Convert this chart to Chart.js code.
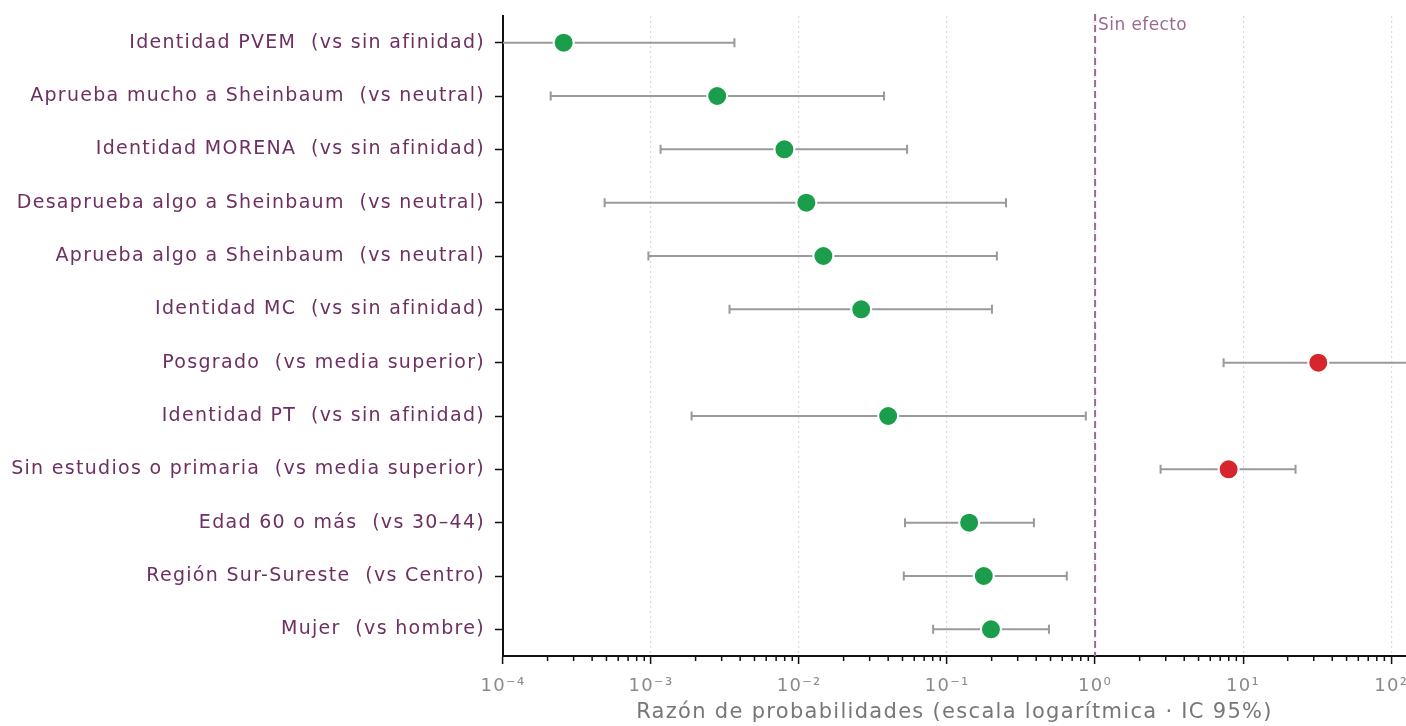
<!DOCTYPE html>
<html>
<head>
<meta charset="utf-8">
<script src="https://cdn.jsdelivr.net/npm/chart.js@4.4.1/dist/chart.umd.min.js"></script>
<style>
  html, body { margin: 0; padding: 0; background: #fff; }
  #wrap { width: 1406px; height: 726px; position: relative; }
</style>
</head>
<body>
<div id="wrap"><canvas id="chart"></canvas></div>
<script>
// odds ratios with 95% CI
const labels = [
    'Identidad PVEM  (vs sin afinidad)',
    'Aprueba mucho a Sheinbaum  (vs neutral)',
    'Identidad MORENA  (vs sin afinidad)',
    'Desaprueba algo a Sheinbaum  (vs neutral)',
    'Aprueba algo a Sheinbaum  (vs neutral)',
    'Identidad MC  (vs sin afinidad)',
    'Posgrado  (vs media superior)',
    'Identidad PT  (vs sin afinidad)',
    'Sin estudios o primaria  (vs media superior)',
    'Edad 60 o más  (vs 30–44)',
    'Región Sur-Sureste  (vs Centro)',
    'Mujer  (vs hombre)'
];
const oddsRatio = [2.57e-4, 2.8e-3, 7.96e-3, 0.0112, 0.0146, 0.0263, 32.2, 0.040, 7.98, 0.141, 0.177, 0.198];
const ciLow     = [5e-5, 2.1e-4, 1.16e-3, 4.86e-4, 9.6e-4, 3.39e-3, 7.38, 1.88e-3, 2.77, 0.052, 0.051, 0.0805];
const ciHigh    = [3.66e-3, 0.0375, 0.0537, 0.25, 0.217, 0.201, 140, 0.866, 22.6, 0.386, 0.644, 0.488];
const NO_EFFECT = 1;
const X_MIN = 1e-4, X_MAX = 126;
const tickLabels = { '-4': '10⁻⁴', '-3': '10⁻³', '-2': '10⁻²', '-1': '10⁻¹', '0': '10⁰', '1': '10¹', '2': '10²' };

const FONT = "'DejaVu Sans', sans-serif";
const LABEL_COLOR = '#6e2f61';
const SPACING = '1.3px';
const isDecade = v => Math.abs(Math.log10(v) - Math.round(Math.log10(v))) < 1e-6;

// wider lettering, dashed "no effect" line, short minor ticks
const decor = {
    id: 'decor',
    beforeUpdate(chart) { chart.ctx.letterSpacing = SPACING; },
    beforeDraw(chart) { chart.ctx.letterSpacing = SPACING; },
    beforeDatasetsDraw(chart) {
        const ctx = chart.ctx, area = chart.chartArea, x = chart.scales.x.getPixelForValue(NO_EFFECT);
        ctx.save();
        ctx.strokeStyle = '#9b6b8f';
        ctx.lineWidth = 2;
        ctx.setLineDash([7, 4]);
        ctx.beginPath();
        ctx.moveTo(x, area.top - 2);
        ctx.lineTo(x, area.bottom);
        ctx.stroke();
        ctx.setLineDash([]);
        ctx.fillStyle = '#9b6b8f';
        ctx.font = "17px " + FONT;
        ctx.letterSpacing = '0.4px';
        ctx.textBaseline = 'top';
        ctx.fillText('Sin efecto', x + 3, area.top + 1);
        ctx.restore();
    },
    afterDraw(chart) {
        const ctx = chart.ctx, sx = chart.scales.x, y0 = chart.chartArea.bottom;
        ctx.save();
        ctx.strokeStyle = '#111';
        ctx.lineWidth = 1.5;
        sx.ticks.forEach(t => {
            if (isDecade(t.value)) return;
            const m = t.value / Math.pow(10, Math.floor(Math.log10(t.value)));
            if (Math.abs(m - Math.round(m)) > 1e-6) return;
            const px = sx.getPixelForValue(t.value);
            ctx.beginPath();
            ctx.moveTo(px, y0);
            ctx.lineTo(px, y0 + 5);
            ctx.stroke();
        });
        ctx.restore();
    }
};

const ciSets = labels.map((lab, i) => ({
    data: [{ x: ciLow[i], y: lab }, { x: ciHigh[i], y: lab }],
    showLine: true,
    borderColor: '#9a9a9a',
    borderWidth: 2,
    pointStyle: 'line',
    rotation: 90,
    pointRadius: 4.5,
    pointBorderColor: '#9a9a9a',
    pointBorderWidth: 2,
    order: 2
}));

new Chart(document.getElementById('chart'), {
    type: 'scatter',
    data: {
        datasets: [{
            data: labels.map((lab, i) => ({ x: oddsRatio[i], y: lab })),
            pointRadius: 10,
            pointBackgroundColor: oddsRatio.map(v => v > NO_EFFECT ? '#d7262b' : '#1b9e4b'),
            pointBorderColor: '#ffffff',
            pointBorderWidth: 2,
            order: 0
        }].concat(ciSets)
    },
    options: {
        responsive: true,
        maintainAspectRatio: false,
        animation: false,
        events: [],
        layout: { autoPadding: false, padding: { top: 16, right: 0, left: 0, bottom: 0 } },
        plugins: { legend: { display: false }, tooltip: { enabled: false } },
        scales: {
            x: {
                type: 'logarithmic',
                min: X_MIN,
                max: X_MAX,
                afterFit: s => { s.height = 70; s.paddingRight = 0; s.paddingLeft = 0; },
                border: { display: true, color: '#111', width: 2, dash: [2, 3] },
                grid: {
                    drawOnChartArea: true,
                    color: c => (c.tick && isDecade(c.tick.value)) ? '#d9d9d9' : 'rgba(0,0,0,0)',
                    lineWidth: 1.2,
                    tickLength: 8,
                    tickColor: c => (c.tick && isDecade(c.tick.value)) ? '#111' : 'rgba(0,0,0,0)',
                    tickWidth: 1.5
                },
                ticks: {
                    autoSkip: false,
                    maxRotation: 0,
                    padding: 12,
                    color: '#8a8a8a',
                    font: { family: FONT, size: 18 },
                    callback: v => isDecade(v) ? tickLabels[String(Math.round(Math.log10(v)))] : ''
                },
                title: {
                    display: true,
                    text: 'Razón de probabilidades (escala logarítmica · IC 95%)',
                    color: '#777',
                    font: { family: FONT, size: 21 },
                    padding: { top: 0, bottom: 1 }
                }
            },
            y: {
                type: 'category',
                labels: labels,
                offset: true,
                afterFit: s => { s.width = 503; s.paddingTop = 0; s.paddingBottom = 0; },
                border: { display: true, color: '#111', width: 2 },
                grid: { drawOnChartArea: false, tickLength: 8, tickColor: '#111', tickWidth: 1.5, offset: false },
                ticks: {
                    padding: 10,
                    color: LABEL_COLOR,
                    font: { family: FONT, size: 19 }
                }
            }
        }
    },
    plugins: [decor]
});
</script>
</body>
</html>
